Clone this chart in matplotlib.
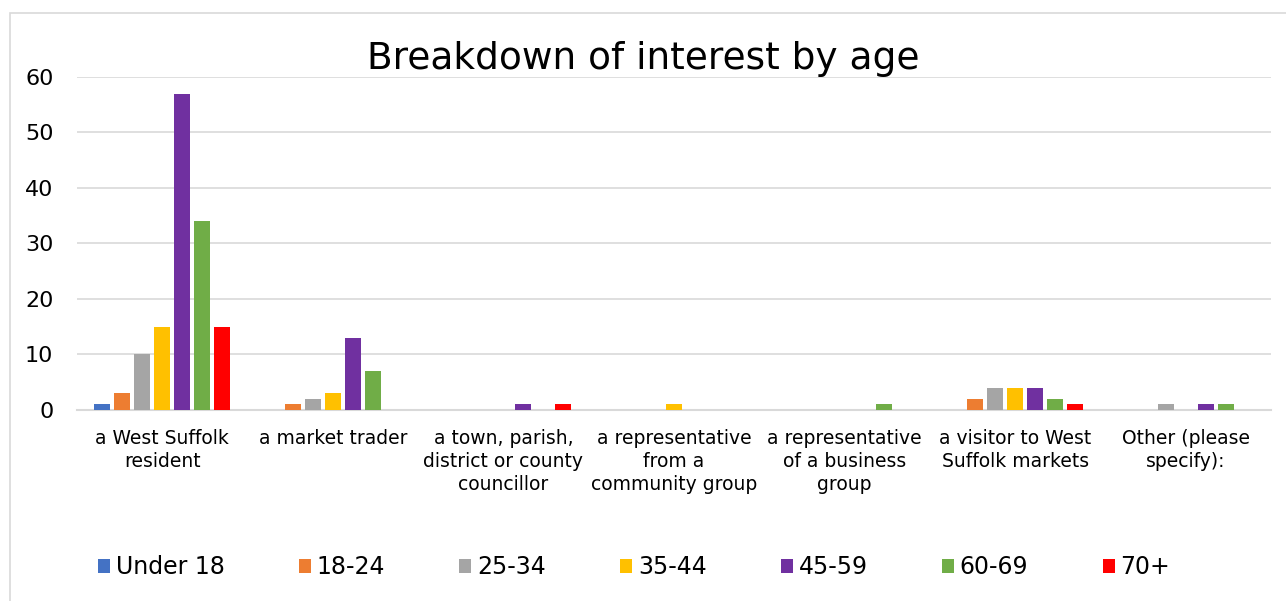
import matplotlib.pyplot as plt
import numpy as np
from matplotlib.patches import Rectangle

categories = [
    "a West Suffolk\nresident",
    "a market trader",
    "a town, parish,\ndistrict or county\ncouncillor",
    "a representative\nfrom a\ncommunity group",
    "a representative\nof a business\ngroup",
    "a visitor to West\nSuffolk markets",
    "Other (please\nspecify):",
]
age_groups = ["Under 18", "18-24", "25-34", "35-44", "45-59", "60-69", "70+"]
under_18 = [1, 0, 0, 0, 0, 0, 0]
age_18_24 = [3, 1, 0, 0, 0, 2, 0]
age_25_34 = [10, 2, 0, 0, 0, 4, 1]
age_35_44 = [15, 3, 0, 1, 0, 4, 0]
age_45_59 = [57, 13, 1, 0, 0, 4, 1]
age_60_69 = [34, 7, 0, 0, 1, 2, 1]
age_70_plus = [15, 0, 1, 0, 0, 1, 0]

series = [under_18, age_18_24, age_25_34, age_35_44, age_45_59, age_60_69, age_70_plus]
colors = ["#4472C4", "#ED7D31", "#A5A5A5", "#FFC000", "#7030A0", "#70AD47", "#FF0000"]

plt.rcParams['font.family'] = ['DejaVu Sans']

fig = plt.figure(figsize=(12.86, 6.01), dpi=100)
ax = fig.add_axes([0.0599, 0.3178, 0.9284, 0.5541])

# outer chart frame
fig.patches.append(Rectangle((10 / 1286, -0.05), 1.1, 1 - 13 / 601 + 0.05,
                             transform=fig.transFigure, fill=False,
                             edgecolor="#d9d9d9", linewidth=1.2))

x = np.arange(len(categories))
step = 0.117
width = 0.094
for i, (vals, name, c) in enumerate(zip(series, age_groups, colors)):
    ax.bar(x + (i - 3) * step, vals, width, color=c, label=name, zorder=3)

ax.set_xlim(-0.5, len(categories) - 0.5)
ax.set_ylim(0, 60)
ax.set_yticks(range(0, 61, 10))
ax.grid(axis='y', color="#d9d9d9", linewidth=1.2, zorder=0)
for s in ['top', 'right', 'left']:
    ax.spines[s].set_visible(False)
ax.spines['bottom'].set_color("#d9d9d9")
ax.spines['bottom'].set_linewidth(1.5)
ax.set_xticks(x)
ax.set_xticklabels(categories, fontsize=13.5, linespacing=1.25)
ax.tick_params(axis='x', length=0, pad=14)
ax.tick_params(axis='y', length=0, pad=17, labelsize=16)

fig.text(0.5, 0.902, "Breakdown of interest by age", ha='center', va='center', fontsize=27)

fig.legend(loc='center', bbox_to_anchor=(0.493, 0.056), ncol=7, frameon=False,
           fontsize=17, handlelength=0.5, handleheight=0.5, handletextpad=0.25,
           columnspacing=3.15)

plt.savefig("out.png", dpi=100)
